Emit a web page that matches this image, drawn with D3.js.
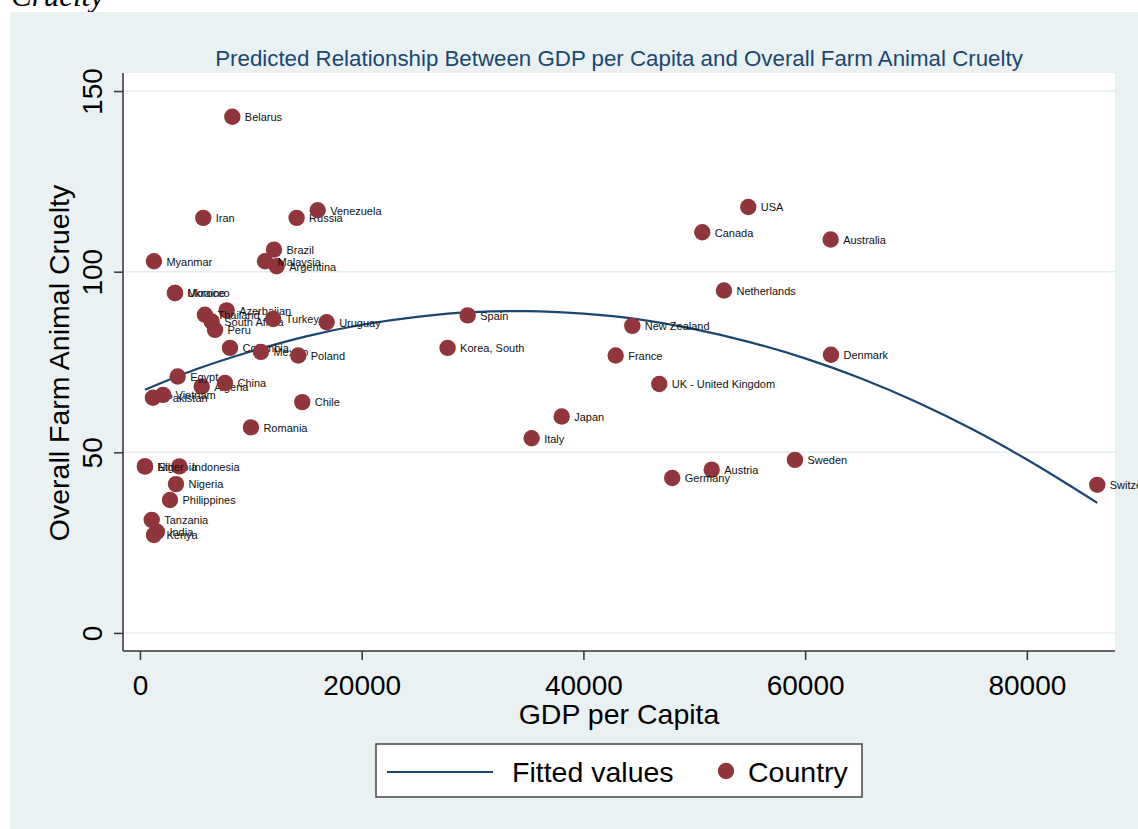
<!DOCTYPE html>
<html>
<head>
<meta charset="utf-8">
<script src="https://cdn.jsdelivr.net/npm/d3@7"></script>
<style>
  html, body { margin: 0; padding: 0; background: #ffffff; overflow: hidden; }
  svg { display: block; }
  text { font-family: "Liberation Sans", Arial, Helvetica, sans-serif; }
</style>
</head>
<body>
<svg id="chart" width="1138" height="829"></svg>
<script>
// Countries, GDP per capita (US$) and overall farm animal cruelty score
const countries = ["Algeria","Argentina","Australia","Austria","Azerbaijan","Belarus","Brazil","Canada","Chile","China",
  "Colombia","Denmark","Egypt","Ethiopia","France","Germany","India","Indonesia","Iran","Italy",
  "Japan","Kenya","Korea, South","Malaysia","Mexico","Morocco","Myanmar","Netherlands","New Zealand","Niger",
  "Nigeria","Pakistan","Peru","Philippines","Poland","Romania","Russia","South Africa","Spain","Sweden",
  "Switzerland","Tanzania","Thailand","Turkey","UK - United Kingdom","Ukraine","Uruguay","USA","Venezuela","Vietnam"];
const gdpPerCapita = [5570,12330,62300,51570,7820,8330,12090,50720,14640,7670,
  8120,62330,3400,450,42910,48010,1530,3550,5710,35330,
  38040,1260,27750,11280,10910,3160,1260,52680,44410,450,
  3250,1170,6770,2710,14280,10010,14130,6470,29560,59080,
  86350,1060,5860,12020,46840,3160,16840,54870,16030,2080];
const crueltyScore = [68.2,101.5,108.9,45.2,89.3,142.9,106.1,110.9,63.9,69.2,
  78.9,77.0,71.0,46.1,76.8,42.9,28.0,46.1,114.9,53.9,
  59.9,27.1,78.9,102.9,77.8,94.1,102.9,94.8,85.0,46.1,
  41.2,65.1,83.9,36.8,76.8,56.9,114.9,86.2,87.9,47.9,
  41.0,31.3,88.1,86.9,68.9,94.1,86.0,117.9,117.0,65.9];

// Quadratic fitted values, sampled along the GDP range
const fitGdp = [450,5000,10000,15000,20000,25000,30000,35000,40000,45000,50000,55000,60000,65000,70000,75000,80000,86350];
const fitValues = [67.3,72.9,77.9,82.1,85.3,87.5,88.8,89.1,88.4,86.8,84.1,80.5,76.0,70.5,64.0,56.5,48.0,36.0];

const xTicks = [0,20000,40000,60000,80000];
const yTicks = [0,50,100,150];

const chartTitle = "Predicted Relationship Between GDP per Capita and Overall Farm Animal Cruelty";
const xTitle = "GDP per Capita";
const yTitle = "Overall Farm Animal Cruelty";
const legendLabels = ["Fitted values", "Country"];

const navy = "#1a476f", maroon = "#90353b", panelBg = "#eaf1f3", gridCol = "#e6eef1", axisCol = "#333333";

const svg = d3.select("#chart");

// Heading fragment above the figure
svg.append("text")
  .attr("x", 11).attr("y", 6)
  .style("font-family", "'Liberation Serif', 'Times New Roman', serif")
  .style("font-style", "italic")
  .style("font-size", "31px")
  .attr("fill", "#000")
  .text("Cruelty");

// Graph region
svg.append("rect").attr("x", 10).attr("y", 12).attr("width", 1140).attr("height", 830).attr("fill", panelBg);

const plot = { left: 123, right: 1115, top: 73, bottom: 651 };
svg.append("rect")
  .attr("x", plot.left).attr("y", plot.top)
  .attr("width", plot.right - plot.left).attr("height", plot.bottom - plot.top)
  .attr("fill", "#ffffff");

const x = d3.scaleLinear().domain([-1530, 87950]).range([plot.left, plot.right]);
const y = d3.scaleLinear().domain([-5, 155]).range([plot.bottom, plot.top]);

// Gridlines
svg.append("g").selectAll("line").data(yTicks).join("line")
  .attr("x1", plot.left).attr("x2", plot.right)
  .attr("y1", d => y(d)).attr("y2", d => y(d))
  .attr("stroke", gridCol).attr("stroke-width", 1.6);

// Axes
const yAxis = svg.append("g").attr("transform", `translate(${plot.left},0)`)
  .call(d3.axisLeft(y).tickValues(yTicks).tickSize(9).tickFormat(d3.format("d")));
yAxis.select(".domain").attr("d", `M0,${plot.top}V${plot.bottom}`).attr("stroke", axisCol).attr("stroke-width", 1.5);
yAxis.selectAll(".tick line").attr("stroke", axisCol).attr("stroke-width", 1.5);
yAxis.selectAll(".tick text")
  .attr("x", null).attr("dy", null)
  .attr("transform", "translate(-21,0) rotate(-90)")
  .attr("text-anchor", "middle")
  .style("font-size", "28px").attr("fill", "#000");

const xAxis = svg.append("g").attr("transform", `translate(0,${plot.bottom})`)
  .call(d3.axisBottom(x).tickValues(xTicks).tickSize(9).tickFormat(d3.format("d")));
xAxis.select(".domain").attr("d", `M${plot.left},0H${plot.right}`).attr("stroke", axisCol).attr("stroke-width", 1.5);
xAxis.selectAll(".tick line").attr("stroke", axisCol).attr("stroke-width", 1.5);
xAxis.selectAll(".tick text")
  .attr("y", 44).attr("dy", null)
  .style("font-size", "28px").attr("fill", "#000");

// Titles
svg.append("text")
  .attr("x", 619).attr("y", 66).attr("text-anchor", "middle")
  .style("font-size", "22.3px").attr("fill", navy)
  .text(chartTitle);

svg.append("text")
  .attr("x", 619).attr("y", 724).attr("text-anchor", "middle")
  .style("font-size", "28.5px").attr("fill", "#000")
  .text(xTitle);

svg.append("text")
  .attr("transform", "translate(69,363) rotate(-90)")
  .attr("text-anchor", "middle")
  .style("font-size", "28.5px").attr("fill", "#000")
  .text(yTitle);

// Fitted curve
const fitLine = d3.line().x(d => x(d[0])).y(d => y(d[1])).curve(d3.curveMonotoneX);
svg.append("path")
  .datum(fitGdp.map((g, i) => [g, fitValues[i]]))
  .attr("d", fitLine)
  .attr("fill", "none").attr("stroke", navy).attr("stroke-width", 2.2);

// Country markers, each followed by its label
const pts = svg.append("g");
countries.forEach((name, i) => {
  const cx = x(gdpPerCapita[i]), cy = y(crueltyScore[i]);
  pts.append("circle").attr("cx", cx).attr("cy", cy).attr("r", 8.2).attr("fill", maroon);
  pts.append("text").attr("x", cx + 12.5).attr("y", cy + 4.3)
    .style("font-size", "11px").attr("fill", "#111").text(name);
});

// Legend
const lg = svg.append("g");
lg.append("rect").attr("x", 376).attr("y", 744).attr("width", 486).attr("height", 53)
  .attr("fill", "#fff").attr("stroke", "#444").attr("stroke-width", 1.5);
lg.append("line").attr("x1", 387).attr("x2", 493).attr("y1", 772).attr("y2", 772)
  .attr("stroke", navy).attr("stroke-width", 2.2);
lg.append("text").attr("x", 512).attr("y", 782).style("font-size", "28.5px").attr("fill", "#000").text(legendLabels[0]);
lg.append("circle").attr("cx", 726).attr("cy", 771).attr("r", 8.2).attr("fill", maroon);
lg.append("text").attr("x", 748).attr("y", 782).style("font-size", "28.5px").attr("fill", "#000").text(legendLabels[1]);
</script>
</body>
</html>
